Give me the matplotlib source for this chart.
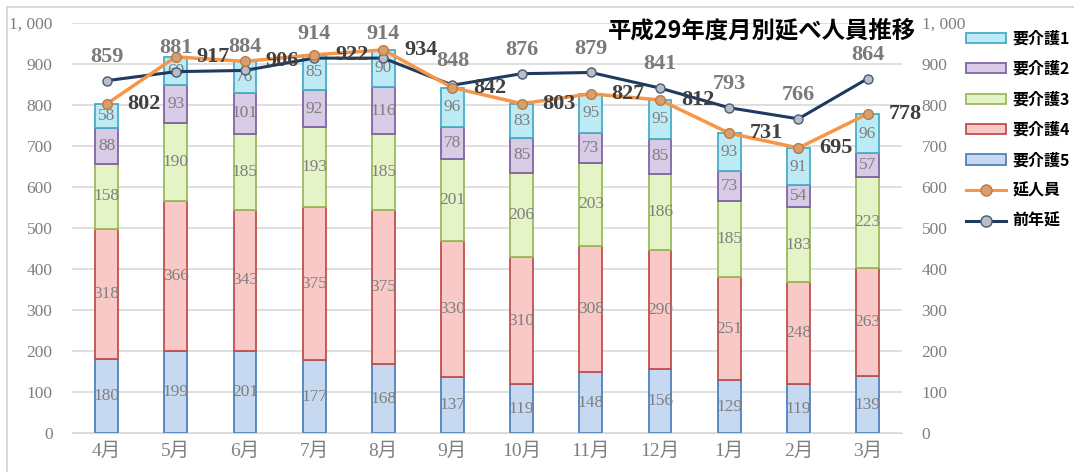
import matplotlib
matplotlib.use('Agg')
import matplotlib.pyplot as plt
from matplotlib.patches import Patch, Rectangle
from matplotlib.lines import Line2D

plt.rcParams['font.family'] = ['Liberation Serif', 'Noto Sans CJK JP']

# データ
months = ['4月', '5月', '6月', '7月', '8月', '9月', '10月', '11月', '12月', '1月', '2月', '3月']
kaigo5 = [180, 199, 201, 177, 168, 137, 119, 148, 156, 129, 119, 139]
kaigo4 = [318, 366, 343, 375, 375, 330, 310, 308, 290, 251, 248, 263]
kaigo3 = [158, 190, 185, 193, 185, 201, 206, 203, 186, 185, 183, 223]
kaigo2 = [88, 93, 101, 92, 116, 78, 85, 73, 85, 73, 54, 57]
kaigo1 = [58, 69, 76, 85, 90, 96, 83, 95, 95, 93, 91, 96]
nobe = [802, 917, 906, 922, 934, 842, 803, 827, 812, 731, 695, 778]
zennen = [859, 881, 884, 914, 914, 848, 876, 879, 841, 793, 766, 864]
yticks = [0, 100, 200, 300, 400, 500, 600, 700, 800, 900, 1000]
ytick_labels = ['0', '100', '200', '300', '400', '500', '600', '700', '800', '900', '1, 000']

series = [
    ('要介護5', kaigo5, '#c6d9f1', '#4f81bd'),
    ('要介護4', kaigo4, '#f9c9c8', '#c0504d'),
    ('要介護3', kaigo3, '#e4f4c6', '#9bbb59'),
    ('要介護2', kaigo2, '#d7cbe6', '#8064a2'),
    ('要介護1', kaigo1, '#bdebf5', '#4bacc6'),
]

gray = '#7f7f7f'
fig = plt.figure(figsize=(10.74, 4.72), dpi=100)
ax = fig.add_axes([0.067, 0.0826, 0.773, 0.869])
x = list(range(len(months)))

bottom = [0] * len(months)
for name, vals, fc, ec in series:
    ax.bar(x, vals, width=0.33, bottom=bottom, color=fc, edgecolor=ec, linewidth=1.3, zorder=2)
    for i, v in enumerate(vals):
        ax.text(i, bottom[i] + v / 2, str(v), ha='center', va='center', fontsize=12.5,
                color=gray, zorder=5)
    bottom = [b + v for b, v in zip(bottom, vals)]

ax.plot(x, zennen, color='#1f3a60', linewidth=2.2, marker='o', markersize=6.5,
        markerfacecolor='#b8bec8', markeredgecolor='#4a5a70', zorder=6)
ax.plot(x, nobe, color='#f79646', linewidth=2.5, marker='o', markersize=7,
        markerfacecolor='#d4a070', markeredgecolor='#c07a40', zorder=7)

for i, v in enumerate(zennen):
    ax.annotate(str(v), (i, v), xytext=(0, 10), textcoords='offset points', ha='center',
                va='bottom', fontsize=16, fontweight='bold', color='#7a7a7a', zorder=8)
for i, v in enumerate(nobe):
    ax.annotate(str(v), (i, v), xytext=(15, 0), textcoords='offset points', ha='left',
                va='center', fontsize=16, fontweight='bold', color='#404040', zorder=8)

ax.set_xlim(-0.5, len(months) - 0.5)
ax.set_ylim(0, 1000)
ax.set_yticks(yticks)
ax.set_yticklabels(ytick_labels)
ax.set_xticks(x)
ax.set_xticklabels(months)
ax.tick_params(axis='y', length=0, labelsize=12.5, labelcolor=gray, pad=14)
ax.tick_params(axis='x', length=0, labelsize=14, labelcolor=gray, pad=7)
ax.grid(axis='y', color='#d9d9d9', linewidth=1.2, zorder=0)
ax.set_axisbelow(True)
for s in ax.spines.values():
    s.set_visible(False)
ax.spines['bottom'].set_visible(True)
ax.spines['bottom'].set_color('#d9d9d9')

ax2 = ax.twinx()
ax2.set_ylim(0, 1000)
ax2.set_yticks(yticks)
ax2.set_yticklabels(ytick_labels)
ax2.tick_params(axis='y', length=0, labelsize=12.5, labelcolor=gray, pad=14)
for s in ax2.spines.values():
    s.set_visible(False)

fig.text(0.853, 0.935, '平成29年度月別延べ人員推移', ha='right', va='center',
         fontsize=16.8, fontweight='bold', family=['Noto Sans CJK JP'])

handles = [Patch(facecolor=fc, edgecolor=ec, linewidth=1.3) for _, _, fc, ec in series[::-1]]
labels = [s[0] for s in series[::-1]]
handles.append(Line2D([], [], color='#f79646', linewidth=2.2, marker='o', markersize=8,
                      markerfacecolor='#d4a070', markeredgecolor='#c07a40'))
handles.append(Line2D([], [], color='#1f3a60', linewidth=2.2, marker='o', markersize=8,
                      markerfacecolor='#b8bec8', markeredgecolor='#4a5a70'))
labels += ['延人員', '前年延']
fig.legend(handles, labels, loc='upper left', bbox_to_anchor=(0.892, 0.952), frameon=False,
           prop={'family': ['Noto Sans CJK JP'], 'weight': 'bold', 'size': 11.5},
           borderpad=0, handlelength=2.5, handleheight=0.6, handletextpad=0.4,
           labelspacing=0.9)

fig.patches.append(Rectangle((7 / 1074, -0.01), 1.0, 1 - 7 / 472 + 0.01, transform=fig.transFigure,
                             fill=False, edgecolor='#d9d9d9', linewidth=1.5))

fig.savefig('out.png', dpi=100)
